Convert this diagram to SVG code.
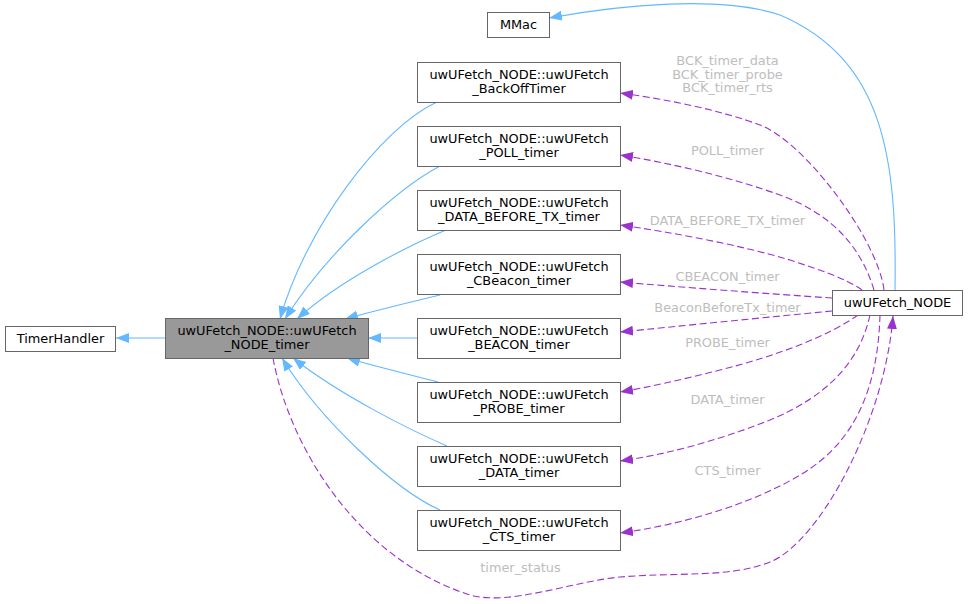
<svg xmlns="http://www.w3.org/2000/svg" width="968" height="604" viewBox="0 0 968 604">
<defs>
<style>
.box{fill:#ffffff;stroke:#666666;stroke-width:1}
.focus{fill:#999999;stroke:#666666;stroke-width:1}
.t{font-family:"DejaVu Sans","Liberation Sans",sans-serif;font-size:12.9px;fill:#000000;text-anchor:middle}
.lbl{font-family:"DejaVu Sans","Liberation Sans",sans-serif;font-size:12.9px;fill:#bdbdbd;text-anchor:middle}
.inh{fill:none;stroke:#63b8ff;stroke-width:1.1;marker-end:url(#ab)}
.use{fill:none;stroke:#9a32cd;stroke-width:1.1;stroke-dasharray:7,3.5;marker-end:url(#ap)}
</style>
<marker id="ab" viewBox="0 0 13 10" refX="13" refY="5" markerWidth="13" markerHeight="10" markerUnits="userSpaceOnUse" orient="auto">
<path d="M0,0 L13,5 L0,10 z" fill="#63b8ff"/>
</marker>
<marker id="ap" viewBox="0 0 13 10" refX="13" refY="5" markerWidth="13" markerHeight="10" markerUnits="userSpaceOnUse" orient="auto">
<path d="M0,0 L13,5 L0,10 z" fill="#9a32cd"/>
</marker>
</defs>
<rect width="968" height="604" fill="#ffffff"/>

<g id="connectors">
<path class="inh" d="M165,338 L116,338"/>
<path class="inh" d="M437,102 C380,128 305,230 280,319"/>
<path class="inh" d="M440,166 C395,190 325,255 285,319"/>
<path class="inh" d="M446,230 C410,245 340,280 297,319"/>
<path class="inh" d="M440,295 C415,301 370,312 345,319"/>
<path class="inh" d="M417,338 L368,338"/>
<path class="inh" d="M438,382 C415,376 370,365 347,358"/>
<path class="inh" d="M447,446 C410,430 340,395 293,358"/>
<path class="inh" d="M440,510 C395,490 320,420 282,358"/>
<path class="inh" d="M895,290 C897,160 885,60 780,15 C720,-5 620,5 549,18"/>

<path class="use" d="M884,290 C878,240 805,142 760,125 C720,110 665,99 620,93"/>
<path class="use" d="M874,290 C862,250 835,215 780,195 C730,177 670,163 620,155"/>
<path class="use" d="M862,290 C845,278 820,270 790,260 C740,245 670,232 620,225"/>
<path class="use" d="M832,298 C770,294 680,287 620,282"/>
<path class="use" d="M832,311 C770,317 680,326 620,332"/>
<path class="use" d="M858,315 C830,335 780,355 720,370 C680,380 650,387 620,392"/>
<path class="use" d="M870,315 C860,360 830,395 770,420 C720,440 665,455 620,461"/>
<path class="use" d="M880,315 C878,380 860,440 800,475 C750,505 680,525 620,533"/>
<path class="use" d="M273,358 C290,450 360,560 470,595 C510,606 570,582 620,577 C680,572 730,578 770,562 C820,542 885,420 893,316"/>

<text class="lbl" x="727.5" y="64.5">BCK_timer_data</text>
<text class="lbl" x="727.5" y="78.5">BCK_timer_probe</text>
<text class="lbl" x="727.5" y="92">BCK_timer_rts</text>
<text class="lbl" x="727.5" y="154.5">POLL_timer</text>
<text class="lbl" x="727.5" y="224.5">DATA_BEFORE_TX_timer</text>
<text class="lbl" x="727.5" y="281">CBEACON_timer</text>
<text class="lbl" x="727.5" y="312">BeaconBeforeTx_timer</text>
<text class="lbl" x="727.5" y="346.5">PROBE_timer</text>
<text class="lbl" x="727.5" y="403.5">DATA_timer</text>
<text class="lbl" x="727.5" y="474.5">CTS_timer</text>
<text class="lbl" x="520.5" y="572">timer_status</text>
</g>

<g id="node_timer">
<rect class="focus" x="165.5" y="318.5" width="203" height="40"/>
<text class="t" x="267" y="334.5">uwUFetch_NODE::uwUFetch</text>
<text class="t" x="267" y="348.5">_NODE_timer</text>
</g>
<g id="timerhandler">
<rect class="box" x="5.5" y="326.5" width="110" height="25"/>
<text class="t" x="60.5" y="343.3">TimerHandler</text>
</g>
<g id="mmac">
<rect class="box" x="487.5" y="12.5" width="62" height="25"/>
<text class="t" x="518.5" y="29.3">MMac</text>
</g>
<g id="uwufetch_node">
<rect class="box" x="832.5" y="290.5" width="130" height="25"/>
<text class="t" x="897.5" y="307.3">uwUFetch_NODE</text>
</g>
<g id="backoff">
<rect class="box" x="417.5" y="62.5" width="203" height="40"/>
<text class="t" x="519" y="78.5">uwUFetch_NODE::uwUFetch</text>
<text class="t" x="519" y="92.5">_BackOffTimer</text>
</g>
<g id="poll">
<rect class="box" x="417.5" y="126.5" width="203" height="40"/>
<text class="t" x="519" y="142.5">uwUFetch_NODE::uwUFetch</text>
<text class="t" x="519" y="156.5">_POLL_timer</text>
</g>
<g id="data_before_tx">
<rect class="box" x="417.5" y="190.5" width="203" height="40"/>
<text class="t" x="519" y="206.5">uwUFetch_NODE::uwUFetch</text>
<text class="t" x="519" y="220.5">_DATA_BEFORE_TX_timer</text>
</g>
<g id="cbeacon">
<rect class="box" x="417.5" y="254.5" width="203" height="40"/>
<text class="t" x="519" y="270.5">uwUFetch_NODE::uwUFetch</text>
<text class="t" x="519" y="284.5">_CBeacon_timer</text>
</g>
<g id="beacon">
<rect class="box" x="417.5" y="318.5" width="203" height="40"/>
<text class="t" x="519" y="334.5">uwUFetch_NODE::uwUFetch</text>
<text class="t" x="519" y="348.5">_BEACON_timer</text>
</g>
<g id="probe">
<rect class="box" x="417.5" y="382.5" width="203" height="40"/>
<text class="t" x="519" y="398.5">uwUFetch_NODE::uwUFetch</text>
<text class="t" x="519" y="412.5">_PROBE_timer</text>
</g>
<g id="data">
<rect class="box" x="417.5" y="446.5" width="203" height="40"/>
<text class="t" x="519" y="462.5">uwUFetch_NODE::uwUFetch</text>
<text class="t" x="519" y="476.5">_DATA_timer</text>
</g>
<g id="cts">
<rect class="box" x="417.5" y="510.5" width="203" height="40"/>
<text class="t" x="519" y="526.5">uwUFetch_NODE::uwUFetch</text>
<text class="t" x="519" y="540.5">_CTS_timer</text>
</g>
</svg>
